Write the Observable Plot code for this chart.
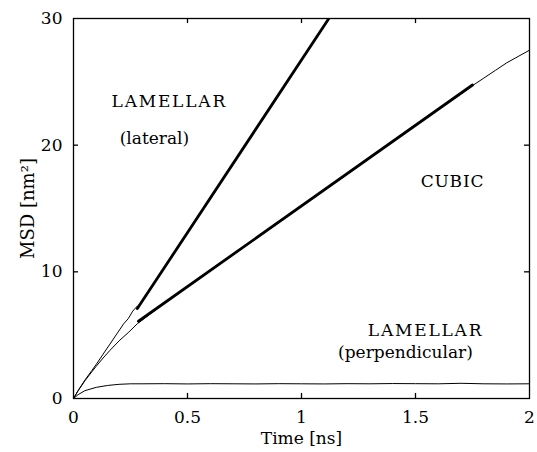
<!DOCTYPE html>
<html>
<head>
<meta charset="utf-8">
<script src="https://cdn.jsdelivr.net/npm/d3@7"></script>
<script src="https://cdn.jsdelivr.net/npm/@observablehq/plot@0.6"></script>
<style>
  html, body { margin: 0; padding: 0; background: white; }
</style>
</head>
<body>
<div id="chart"></div>
<script>
// Thin MSD curves (data)
const lateralT = [0, 0.02, 0.05, 0.08, 0.10, 0.13, 0.16, 0.19, 0.22, 0.24, 0.26, 0.28];
const lateralY = [0, 0.62, 1.45, 2.2, 2.7, 3.5, 4.3, 5.1, 5.9, 6.3, 6.9, 7.3];

const cubicT = [0, 0.02, 0.05, 0.08, 0.10, 0.13, 0.16, 0.20, 0.24, 0.28, 0.40, 0.60, 0.80, 1.00, 1.20, 1.40, 1.60, 1.75, 1.80, 1.85, 1.90, 1.95, 2.00];
const cubicY = [0, 0.6, 1.4, 2.1, 2.55, 3.2, 3.8, 4.55, 5.2, 5.9, 7.55, 10.1, 12.6, 15.2, 17.7, 20.3, 22.8, 24.7, 25.3, 25.9, 26.5, 27.0, 27.5];

const perpT = [0, 0.02, 0.05, 0.10, 0.15, 0.20, 0.25, 0.30, 0.40, 0.50, 0.60, 0.70, 0.80, 0.90, 1.00, 1.10, 1.20, 1.30, 1.40, 1.50, 1.60, 1.70, 1.80, 1.90, 2.00];
const perpY = [0, 0.30, 0.62, 0.88, 1.03, 1.12, 1.16, 1.16, 1.17, 1.15, 1.17, 1.16, 1.15, 1.17, 1.16, 1.15, 1.17, 1.16, 1.18, 1.17, 1.16, 1.20, 1.16, 1.15, 1.16];

// Thick linear fits
const lateralFitT = [0.28, 1.12];
const lateralFitY = [7.1, 30];
const cubicFitT = [0.285, 1.75];
const cubicFitY = [6.1, 24.75];

// Ticks
const xTicks = [0, 0.5, 1, 1.5, 2];
const yTicks = [0, 10, 20, 30];
const xInner = [0.5, 1, 1.5];
const yInner = [10, 20];

// Annotations
const labels = [
  {t: 0.42,  v: 23.47, text: "LAMELLAR"},
  {t: 0.355, v: 20.55, text: "(lateral)"},
  {t: 1.662, v: 17.1,  text: "CUBIC"},
  {t: 1.544, v: 5.4,   text: "LAMELLAR"},
  {t: 1.456, v: 3.66,  text: "(perpendicular)"}
];

const zip = (xs, ys) => xs.map((x, i) => ({x, y: ys[i]}));

const chart = Plot.plot({
  width: 537,
  height: 452,
  marginLeft: 73,
  marginRight: 8,
  marginTop: 18,
  marginBottom: 54,
  style: {fontFamily: "'DejaVu Serif', serif", fontSize: "17px", background: "white", color: "black"},
  x: {domain: [0, 2], label: null},
  y: {domain: [0, 30], label: null},
  marks: [
    Plot.axisX(xTicks, {tickSize: 0, tickPadding: 12, tickFormat: d => String(d), fontSize: 17}),
    Plot.axisY(yTicks, {tickSize: 0, tickPadding: 11, tickFormat: d => String(d), fontSize: 17}),
    // inward ticks
    Plot.ruleX(xInner, {x: d => d, y1: 0, y2: 0.4, stroke: "black", strokeWidth: 1.3}),
    Plot.ruleX(xInner, {x: d => d, y1: 29.6, y2: 30, stroke: "black", strokeWidth: 1.3}),
    Plot.ruleY(yInner, {y: d => d, x1: 0, x2: 0.022, stroke: "black", strokeWidth: 1.3}),
    Plot.ruleY(yInner, {y: d => d, x1: 1.978, x2: 2, stroke: "black", strokeWidth: 1.3}),
    // thin data curves
    Plot.line(zip(perpT, perpY), {x: "x", y: "y", stroke: "black", strokeWidth: 1}),
    Plot.line(zip(cubicT, cubicY), {x: "x", y: "y", stroke: "black", strokeWidth: 1}),
    Plot.line(zip(lateralT, lateralY), {x: "x", y: "y", stroke: "black", strokeWidth: 1}),
    // thick fits
    Plot.line(zip(cubicFitT, cubicFitY), {x: "x", y: "y", stroke: "black", strokeWidth: 2.8, clip: true}),
    Plot.line(zip(lateralFitT, lateralFitY), {x: "x", y: "y", stroke: "black", strokeWidth: 2.8, clip: true}),
    // annotations
    Plot.text(labels, {x: "t", y: "v", text: "text", textAnchor: "middle", lineAnchor: "middle", fontSize: 17, fill: "black"}),
    // axis titles
    Plot.text(["Time [ns]"], {frameAnchor: "bottom", dy: 40, text: d => d, textAnchor: "middle", lineAnchor: "middle", fontSize: 17, fill: "black"}),
    Plot.text(["MSD [nm²]"], {frameAnchor: "left", dx: -45, rotate: -90, text: d => d, textAnchor: "middle", lineAnchor: "middle", fontSize: 18, fill: "black"}),
    Plot.frame({stroke: "black", strokeWidth: 1.3})
  ]
});
// Wider uppercase lettering as in the reference
d3.select(chart).selectAll("text").filter(function() {
  const s = this.textContent;
  return s === "LAMELLAR" || s === "CUBIC";
}).style("letter-spacing", function() { return this.textContent === "CUBIC" ? "0.8px" : "1.8px"; });
document.getElementById("chart").appendChild(chart);
</script>
</body>
</html>
